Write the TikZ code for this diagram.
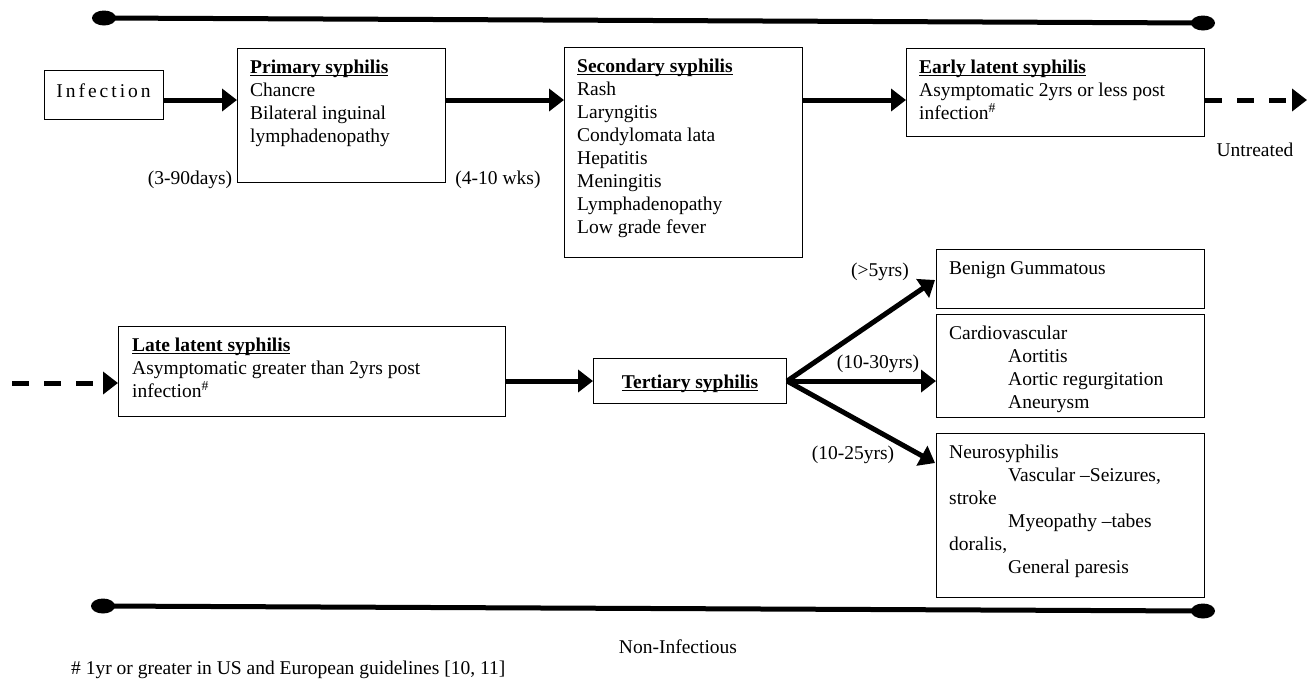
\documentclass[tikz,border=0pt]{standalone}
\usepackage{fontspec}
\setmainfont{Liberation Serif}
\usetikzlibrary{arrows.meta,shapes.geometric}
\newcommand\ulx[1]{\setbox0\hbox{\textbf{#1}}\rlap{\rule[-2.2pt]{\wd0}{1.4pt}}\box0}
\newcommand\ind{\hspace*{59pt}}
\tikzset{
 box/.style={draw, line width=1.1pt, inner sep=0pt, anchor=north west},
 txt/.style={font=\fontsize{19.5}{23}\selectfont, align=left, inner sep=0pt, anchor=north west},
 lbl/.style={font=\fontsize{19.5}{23}\selectfont, inner sep=0pt},
 arr/.style={line width=5pt, -{Triangle[length=15pt,width=22pt]}},
 darr/.style={arr, dash pattern=on 17pt off 15pt},
 dotst/.style={ellipse, fill=black, minimum width=24pt, minimum height=15pt, inner sep=0pt},
 bar/.style={line width=5pt}
}
\begin{document}
\begin{tikzpicture}[x=1pt,y=-1pt]
\useasboundingbox (0,0) rectangle (1309,686);
% top and bottom bars
\node[dotst] (t1) at (104,18) {};
\node[dotst] (t2) at (1203,23) {};
\draw[bar] (t1.center) -- (t2.center);
\node[dotst] (b1) at (103,606) {};
\node[dotst] (b2) at (1203,611) {};
\draw[bar] (b1.center) -- (b2.center);
% boxes
\node[box, minimum width=119pt, minimum height=49pt] (inf) at (44,70) {};
\node[lbl] (inft) at (103.5,91) {I\kern3pt n\kern3pt f\kern3pt e\kern3pt c\kern3pt t\kern3pt i\kern3pt o\kern3pt n};
\node[box, minimum width=208pt, minimum height=134pt] (prim) at (237,48) {};
\node[txt] (primt) at ([shift={(13,9.4)}]prim.north west) {\strut\ulx{Primary syphilis}\\Chancre\\Bilateral inguinal\\lymphadenopathy};
\node[box, minimum width=238pt, minimum height=210pt] (sec) at (564,47) {};
\node[txt] (sect) at ([shift={(13,9.4)}]sec.north west) {\strut\ulx{Secondary syphilis}\\Rash\\Laryngitis\\Condylomata lata\\Hepatitis\\Meningitis\\Lymphadenopathy\\Low grade fever};
\node[box, minimum width=298pt, minimum height=88pt] (early) at (906,48) {};
\node[txt] (earlyt) at ([shift={(13,9.4)}]early.north west) {\strut\ulx{Early latent syphilis}\\Asymptomatic 2yrs or less post\\infection\textsuperscript{\#}};
\node[box, minimum width=387pt, minimum height=90pt] (late) at (118,326) {};
\node[txt] (latet) at ([shift={(14,9.4)}]late.north west) {\strut\ulx{Late latent syphilis}\\Asymptomatic greater than 2yrs post\\infection\textsuperscript{\#}};
\node[box, minimum width=193pt, minimum height=45pt] (tert) at (593,358) {};
\node[lbl] (tertt) at ([yshift=-3pt]tert.center) {\ulx{Tertiary syphilis}};
\node[box, minimum width=268pt, minimum height=59pt] (ben) at (936,249) {};
\node[txt] (bent) at ([shift={(13,9.4)}]ben.north west) {\strut Benign Gummatous};
\node[box, minimum width=268pt, minimum height=103pt] (card) at (936,314) {};
\node[txt] (cardt) at ([shift={(13,9.4)}]card.north west) {\strut Cardiovascular\\\ind Aortitis\\\ind Aortic regurgitation\\\ind Aneurysm};
\node[box, minimum width=268pt, minimum height=164pt] (neuro) at (936,433) {};
\node[txt] (neurot) at ([shift={(13,9.4)}]neuro.north west) {\strut Neurosyphilis\\\ind Vascular --Seizures,\\stroke\\\ind Myeopathy --tabes\\doralis,\\\ind General paresis};
% arrows
\coordinate (row1) at (0,100);
\coordinate (row2) at (0,381);
\coordinate (out) at (1307,100);
\coordinate (in) at (12,383);
\coordinate (tb) at (935,280);
\coordinate (tn) at (935,463);
\draw[arr] (inf.east |- row1) -- (prim.west |- row1);
\draw[arr] (prim.east |- row1) -- (sec.west |- row1);
\draw[arr] (sec.east |- row1) -- (early.west |- row1);
\draw[darr] (early.east |- row1) -- (out);
\draw[darr] (in) -- (late.west |- in);
\draw[arr] (late.east |- row2) -- (tert.west |- row2);
\draw[arr] (tert.east) -- (tb);
\draw[arr] (tert.east) -- (card.west |- tert.east);
\draw[arr] (tert.east) -- (tn);
% labels
\node[lbl] (l1) at (190,180) {(3-90days)};
\node[lbl] (l2) at (498,180) {(4-10 wks)};
\node[lbl] (l3) at (1255,150) {Untreated};
\node[lbl] (l4) at (880,272) {(>5yrs)};
\node[lbl] (l5) at (878,364) {(10-30yrs)};
\node[lbl] (l6) at (853,455) {(10-25yrs)};
\node[lbl] (l7) at (678,647) {Non-Infectious};
\node[lbl, anchor=west] (l8) at (71,670) {\# 1yr or greater in US and European guidelines [10, 11]};
\end{tikzpicture}
\end{document}
